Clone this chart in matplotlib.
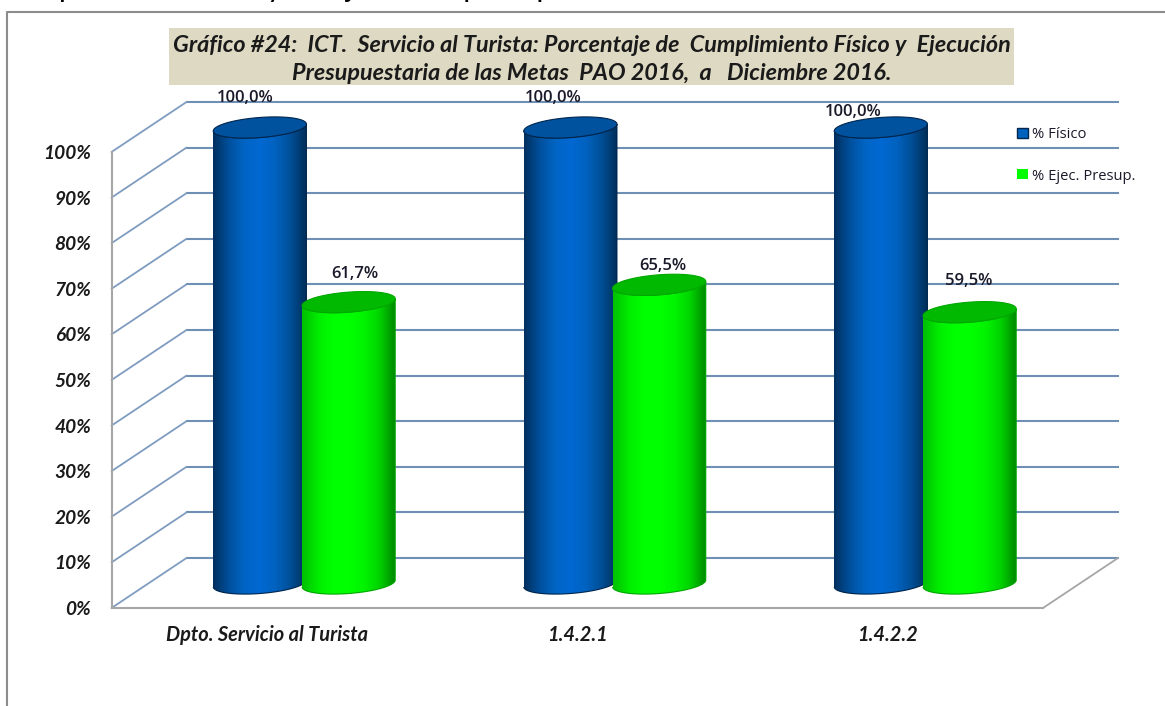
import numpy as np
import matplotlib
matplotlib.use("Agg")
import matplotlib.pyplot as plt
from matplotlib.lines import Line2D
from matplotlib.patches import PathPatch, Patch, Rectangle
from matplotlib.path import Path
from matplotlib.colors import LinearSegmentedColormap
from matplotlib.transforms import offset_copy

categories = ["Dpto. Servicio al Turista", "1.4.2.1", "1.4.2.2"]
fisico = [100.0, 100.0, 100.0]
ejec_presup = [61.7, 65.5, 59.5]
y_ticks = [0, 10, 20, 30, 40, 50, 60, 70, 80, 90, 100]
series_names = ["% Físico", "% Ejec. Presup."]

W, H = 1165, 706
TEXT_FONT = "Lato"
LABEL_FONT = "Open Sans"


def fx(px):
    return px / W


def fy(py):
    return 1 - py / H


fig = plt.figure(figsize=(W / 100, H / 100), dpi=100, facecolor="white")

# front plane of the 3D box
left, right, top, bottom = 111.5, 1043, 152, 608
ax = fig.add_axes([fx(left), fy(bottom), (right - left) / W, (bottom - top) / H])
ax.set_xlim(-0.5, 2.5)
ax.set_ylim(0, 100)
ax.patch.set_alpha(0)
for s in ax.spines.values():
    s.set_visible(False)

back = offset_copy(ax.transData, fig, x=75, y=50, units="dots")
mid = offset_copy(ax.transData, fig, x=37.5, y=24.5, units="dots")

# walls and floor
for v in y_ticks:
    ax.plot([2.5, -0.5], [v, v], transform=back, color="#6f8fb5", lw=1.5,
            clip_on=False, zorder=1)
    ax.annotate("", xy=(-0.5, v), xycoords=back, xytext=(-0.5, v), textcoords="data",
                arrowprops=dict(arrowstyle="-", color="#7f9cc0", lw=1.3, shrinkA=0, shrinkB=0),
                zorder=1, annotation_clip=False)

GREY = "#a6a6a6"
ax.plot([-0.5, -0.5], [0, 100], color=GREY, lw=1.5, clip_on=False, zorder=2)
ax.plot([-0.5, 2.5], [0, 0], color=GREY, lw=1.5, clip_on=False, zorder=2)
ax.annotate("", xy=(2.5, 0), xycoords=back, xytext=(2.5, 0), textcoords="data",
            arrowprops=dict(arrowstyle="-", color=GREY, lw=1.3, shrinkA=0, shrinkB=0),
            zorder=2, annotation_clip=False)

blue_cmap = LinearSegmentedColormap.from_list(
    "blue3d", ["#00305f", "#004f9c", "#0064c4", "#0068d2", "#0062c0", "#004f98", "#00305c"])
green_cmap = LinearSegmentedColormap.from_list(
    "green3d", ["#00c000", "#00ec00", "#00ff00", "#00ff00", "#00f400", "#00d400", "#008c00"])

HALF_W = 0.15
BUMP = 2.2
TILT = 0.75


def ellipse_xy(cx, v, t):
    return cx + HALF_W * np.cos(t), v + BUMP * np.sin(t) + TILT * np.cos(t)


def cylinder(cx, value, cmap, top_color, edge, z):
    t_low = np.linspace(np.pi, 2 * np.pi, 60)
    t_up = np.linspace(0, np.pi, 60)
    bx, by = ellipse_xy(cx, 0, t_low)
    tx, ty = ellipse_xy(cx, value, t_low[::-1])
    body = Path(np.c_[np.r_[bx, tx], np.r_[by, ty]])

    # horizontal shading, cut to the cylinder outline
    xs = np.linspace(cx - HALF_W, cx + HALF_W, 94)
    ys = [-5, value + 5]
    shade = np.linspace(0, 1, 93).reshape(1, -1)
    mesh = ax.pcolormesh(xs, ys, shade, cmap=cmap, transform=mid, zorder=z, shading="flat")
    mesh.set_clip_box(fig.bbox)
    mesh.set_clip_path(PathPatch(body, transform=mid))

    ax.add_patch(PathPatch(body, facecolor="none", edgecolor=edge, lw=0.8, transform=mid,
                           zorder=z + 0.1, clip_on=False))
    lx, ly = ellipse_xy(cx, value, np.r_[t_low, t_up])
    ax.add_patch(PathPatch(Path(np.c_[lx, ly]), facecolor=top_color, edgecolor=edge, lw=0.8,
                           transform=mid, zorder=z + 0.2, clip_on=False))


OFFSET = 0.143
for i in range(len(categories)):
    cylinder(i - OFFSET, fisico[i], blue_cmap, "#00529f", "#00264d", 3 + i * 2)
    cylinder(i + OFFSET, ejec_presup[i], green_cmap, "#00b900", "#00a800", 4 + i * 2)

ax.set_xlim(-0.5, 2.5)
ax.set_ylim(0, 100)

# y labels and category labels
ax.set_yticks(y_ticks)
ax.set_yticklabels([f"{v}%" for v in y_ticks], fontname=TEXT_FONT, fontweight="bold",
                   fontstyle="italic", fontsize=13.8, color="#1a1a1a")
ax.set_xticks(range(len(categories)))
ax.set_xticklabels(categories, fontname=TEXT_FONT, fontweight="bold",
                   fontstyle="italic", fontsize=14.4, color="#1a1a1a")
ax.tick_params(axis="y", length=0, pad=14.5)
ax.tick_params(axis="x", length=0, pad=12)

# data labels, placed as in the reference (100 % ones sit above the tops)
fis_label_dx = [-15, -17, -28]
fis_label_dy = [30, 30, 16]
eje_label_dx = [6, 4, -1]
eje_label_dy = [28, 19, 31]
for i in range(len(categories)):
    ax.annotate(f"{fisico[i]:.1f}%".replace(".", ","), (i - OFFSET, fisico[i]), xycoords=mid,
                xytext=(fis_label_dx[i], fis_label_dy[i]), textcoords="offset pixels",
                ha="center", va="center", fontname=LABEL_FONT, fontsize=12, fontweight="semibold",
                color="#1a1a2a", zorder=30, annotation_clip=False)
    ax.annotate(f"{ejec_presup[i]:.1f}%".replace(".", ","), (i + OFFSET, ejec_presup[i]),
                xycoords=mid, xytext=(eje_label_dx[i], eje_label_dy[i]),
                textcoords="offset pixels", ha="center", va="center", fontname=LABEL_FONT,
                fontsize=12, fontweight="semibold", color="#1a1a2a", zorder=30,
                annotation_clip=False)

# title box
fig.patches.append(Rectangle((fx(169), fy(85)), 845 / W, 57 / H, transform=fig.transFigure,
                             facecolor="#ddd9c3", edgecolor="none", zorder=5))
title_lines = [
    "Gráfico #24:  ICT.  Servicio al Turista: Porcentaje de  Cumplimiento Físico y  Ejecución",
    "Presupuestaria de las Metas  PAO 2016,  a   Diciembre 2016.",
]
fig.text(fx(592), fy(45), title_lines[0], ha="center", va="center", fontname=TEXT_FONT,
         fontweight="bold", fontstyle="italic", fontsize=16.85, color="#1a1a1a", zorder=6)
fig.text(fx(592), fy(73), title_lines[1], ha="center", va="center", fontname=TEXT_FONT,
         fontweight="bold", fontstyle="italic", fontsize=16.85, color="#1a1a1a", zorder=6)

# outer frame, open on the right and at the bottom
fig.add_artist(Line2D([fx(7), fx(7), fx(1165)], [fy(706), fy(11.5), fy(11.5)],
                      color="#8c8c8c", lw=1.5))

# sentence cut off by the top of the picture
fig.text(fx(3), fy(-2.5), "cumplimiento físico y de ejecución presupuestaria de las Metas del Servicio al Turista",
         ha="left", va="baseline", fontname=TEXT_FONT, fontsize=21.6, color="black")

leg = fig.legend(
    handles=[Patch(facecolor="#0062bd", edgecolor="#00264d", label=series_names[0]),
             Patch(facecolor="#00ff00", edgecolor="none", label=series_names[1])],
    loc="upper left", bbox_to_anchor=(fx(1017), fy(127)), frameon=False,
    prop={"family": LABEL_FONT, "size": 10.6}, handlelength=0.75, handleheight=0.65,
    handletextpad=0.3, labelspacing=1.8, borderpad=0, borderaxespad=0)
for t in leg.get_texts():
    t.set_color("#1a1a2a")

fig.savefig("out.png", dpi=100)
